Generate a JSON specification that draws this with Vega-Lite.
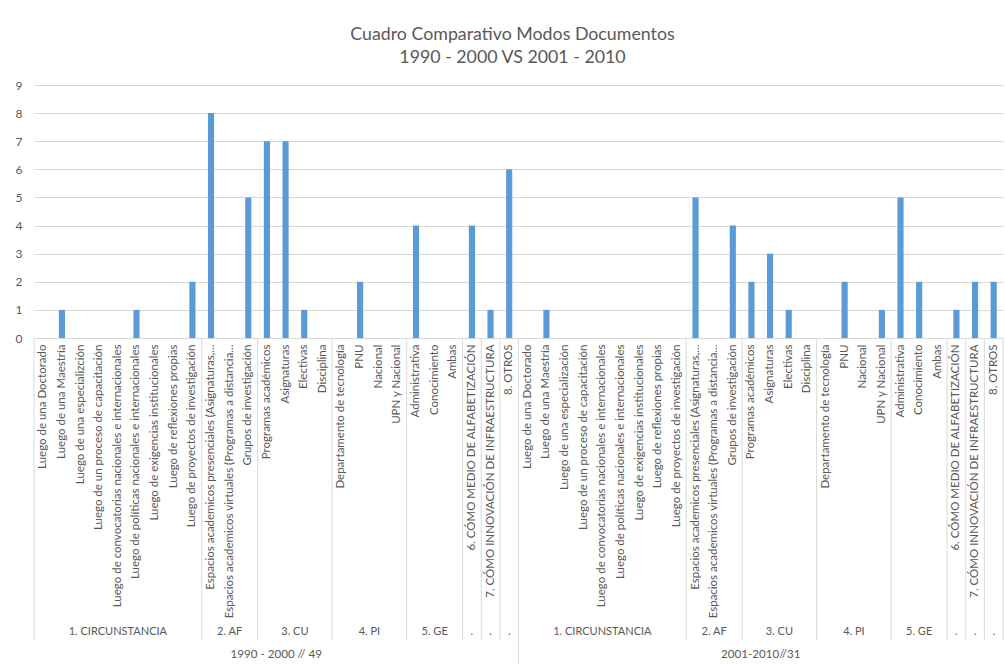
{
  "$schema": "https://vega.github.io/schema/vega-lite/v6.json",
  "width": 969,
  "height": 253,
  "autosize": {"type": "none"},
  "padding": {"left": 34, "top": 85, "right": 2, "bottom": 326},
  "background": "white",
  "title": {
    "text": ["Cuadro Comparativo Modos Documentos", "1990 - 2000 VS 2001 - 2010"],
    "font": "Lato",
    "fontSize": 17.8,
    "fontWeight": "normal",
    "color": "#595959",
    "anchor": "middle",
    "offset": 12,
    "dx": -6,
    "lineHeight": 23
  },
  "config": {
    "view": {"stroke": null},
    "font": "Lato",
    "axis": {"labelFont": "Lato"}
  },
  "datasets": {
    "bars": [
      {"period": "1990 - 2000 // 49", "group": "1. CIRCUNSTANCIA", "sub": "Luego de una Doctorado", "value": 0},
      {"period": "1990 - 2000 // 49", "group": "1. CIRCUNSTANCIA", "sub": "Luego de una Maestría", "value": 1},
      {"period": "1990 - 2000 // 49", "group": "1. CIRCUNSTANCIA", "sub": "Luego de una especializción", "value": 0},
      {"period": "1990 - 2000 // 49", "group": "1. CIRCUNSTANCIA", "sub": "Luego de un proceso de capacitación", "value": 0},
      {"period": "1990 - 2000 // 49", "group": "1. CIRCUNSTANCIA", "sub": "Luego de convocatorias nacionales e internacionales", "value": 0},
      {"period": "1990 - 2000 // 49", "group": "1. CIRCUNSTANCIA", "sub": "Luego de políticas nacionales e internacionales", "value": 1},
      {"period": "1990 - 2000 // 49", "group": "1. CIRCUNSTANCIA", "sub": "Luego de exigencias institucionales", "value": 0},
      {"period": "1990 - 2000 // 49", "group": "1. CIRCUNSTANCIA", "sub": "Luego de reflexiones propias", "value": 0},
      {"period": "1990 - 2000 // 49", "group": "1. CIRCUNSTANCIA", "sub": "Luego de proyectos de investigación", "value": 2},
      {"period": "1990 - 2000 // 49", "group": "2. AF", "sub": "Espacios academicos presenciales (Asignaturas,...", "value": 8},
      {"period": "1990 - 2000 // 49", "group": "2. AF", "sub": "Espacios academicos virtuales (Programas a distancia...", "value": 0},
      {"period": "1990 - 2000 // 49", "group": "2. AF", "sub": "Grupos de investigación", "value": 5},
      {"period": "1990 - 2000 // 49", "group": "3. CU", "sub": "Programas académicos", "value": 7},
      {"period": "1990 - 2000 // 49", "group": "3. CU", "sub": "Asignaturas", "value": 7},
      {"period": "1990 - 2000 // 49", "group": "3. CU", "sub": "Electivas", "value": 1},
      {"period": "1990 - 2000 // 49", "group": "3. CU", "sub": "Disciplina", "value": 0},
      {"period": "1990 - 2000 // 49", "group": "4. PI", "sub": "Departamento de tecnología", "value": 0},
      {"period": "1990 - 2000 // 49", "group": "4. PI", "sub": "PNU", "value": 2},
      {"period": "1990 - 2000 // 49", "group": "4. PI", "sub": "Nacional", "value": 0},
      {"period": "1990 - 2000 // 49", "group": "4. PI", "sub": "UPN y Nacional", "value": 0},
      {"period": "1990 - 2000 // 49", "group": "5. GE", "sub": "Administrativa", "value": 4},
      {"period": "1990 - 2000 // 49", "group": "5. GE", "sub": "Conocimiento", "value": 0},
      {"period": "1990 - 2000 // 49", "group": "5. GE", "sub": "Ambas", "value": 0},
      {"period": "1990 - 2000 // 49", "group": ".", "sub": "6. CÓMO MEDIO DE ALFABETIZACIÓN", "value": 4},
      {"period": "1990 - 2000 // 49", "group": ".", "sub": "7. CÓMO INNOVACIÓN DE INFRAESTRUCTURA", "value": 1},
      {"period": "1990 - 2000 // 49", "group": ".", "sub": "8. OTROS", "value": 6},
      {"period": "2001-2010//31", "group": "1. CIRCUNSTANCIA", "sub": "Luego de una Doctorado", "value": 0},
      {"period": "2001-2010//31", "group": "1. CIRCUNSTANCIA", "sub": "Luego de una Maestría", "value": 1},
      {"period": "2001-2010//31", "group": "1. CIRCUNSTANCIA", "sub": "Luego de una especialización", "value": 0},
      {"period": "2001-2010//31", "group": "1. CIRCUNSTANCIA", "sub": "Luego de un proceso de capacitación", "value": 0},
      {"period": "2001-2010//31", "group": "1. CIRCUNSTANCIA", "sub": "Luego de convocatorias nacionales e internacionales", "value": 0},
      {"period": "2001-2010//31", "group": "1. CIRCUNSTANCIA", "sub": "Luego de políticas nacionales e internacionales", "value": 0},
      {"period": "2001-2010//31", "group": "1. CIRCUNSTANCIA", "sub": "Luego de exigencias institucionales", "value": 0},
      {"period": "2001-2010//31", "group": "1. CIRCUNSTANCIA", "sub": "Luego de reflexiones propias", "value": 0},
      {"period": "2001-2010//31", "group": "1. CIRCUNSTANCIA", "sub": "Luego de proyectos de investigación", "value": 0},
      {"period": "2001-2010//31", "group": "2. AF", "sub": "Espacios academicos presenciales (Asignaturas,...", "value": 5},
      {"period": "2001-2010//31", "group": "2. AF", "sub": "Espacios academicos virtuales (Programas a distancia...", "value": 0},
      {"period": "2001-2010//31", "group": "2. AF", "sub": "Grupos de investigación", "value": 4},
      {"period": "2001-2010//31", "group": "3. CU", "sub": "Programas académicos", "value": 2},
      {"period": "2001-2010//31", "group": "3. CU", "sub": "Asignaturas", "value": 3},
      {"period": "2001-2010//31", "group": "3. CU", "sub": "Electivas", "value": 1},
      {"period": "2001-2010//31", "group": "3. CU", "sub": "Disciplina", "value": 0},
      {"period": "2001-2010//31", "group": "4. PI", "sub": "Departamento de tecnología", "value": 0},
      {"period": "2001-2010//31", "group": "4. PI", "sub": "PNU", "value": 2},
      {"period": "2001-2010//31", "group": "4. PI", "sub": "Nacional", "value": 0},
      {"period": "2001-2010//31", "group": "4. PI", "sub": "UPN y Nacional", "value": 1},
      {"period": "2001-2010//31", "group": "5. GE", "sub": "Administrativa", "value": 5},
      {"period": "2001-2010//31", "group": "5. GE", "sub": "Conocimiento", "value": 2},
      {"period": "2001-2010//31", "group": "5. GE", "sub": "Ambas", "value": 0},
      {"period": "2001-2010//31", "group": ".", "sub": "6. CÓMO MEDIO DE ALFABETIZACIÓN", "value": 1},
      {"period": "2001-2010//31", "group": ".", "sub": "7. CÓMO INNOVACIÓN DE INFRAESTRUCTURA", "value": 2},
      {"period": "2001-2010//31", "group": ".", "sub": "8. OTROS", "value": 2}
    ],
    "groupStarts": [
      {"period": "1990 - 2000 // 49", "sub": "Luego de una Doctorado"},
      {"period": "1990 - 2000 // 49", "sub": "Espacios academicos presenciales (Asignaturas,..."},
      {"period": "1990 - 2000 // 49", "sub": "Programas académicos"},
      {"period": "1990 - 2000 // 49", "sub": "Departamento de tecnología"},
      {"period": "1990 - 2000 // 49", "sub": "Administrativa"},
      {"period": "1990 - 2000 // 49", "sub": "6. CÓMO MEDIO DE ALFABETIZACIÓN"},
      {"period": "1990 - 2000 // 49", "sub": "7. CÓMO INNOVACIÓN DE INFRAESTRUCTURA"},
      {"period": "1990 - 2000 // 49", "sub": "8. OTROS"},
      {"period": "2001-2010//31", "sub": "Espacios academicos presenciales (Asignaturas,..."},
      {"period": "2001-2010//31", "sub": "Programas académicos"},
      {"period": "2001-2010//31", "sub": "Departamento de tecnología"},
      {"period": "2001-2010//31", "sub": "Administrativa"},
      {"period": "2001-2010//31", "sub": "6. CÓMO MEDIO DE ALFABETIZACIÓN"},
      {"period": "2001-2010//31", "sub": "7. CÓMO INNOVACIÓN DE INFRAESTRUCTURA"},
      {"period": "2001-2010//31", "sub": "8. OTROS"}
    ],
    "groupEnds": [
      {"period": "2001-2010//31", "sub": "8. OTROS"}
    ],
    "periodStarts": [
      {"period": "2001-2010//31", "sub": "Luego de una Doctorado"}
    ],
    "groupLabelsMid": [
      {"period": "1990 - 2000 // 49", "sub": "Luego de convocatorias nacionales e internacionales", "label": "1. CIRCUNSTANCIA"},
      {"period": "1990 - 2000 // 49", "sub": "Espacios academicos virtuales (Programas a distancia...", "label": "2. AF"},
      {"period": "1990 - 2000 // 49", "sub": "Conocimiento", "label": "5. GE"},
      {"period": "1990 - 2000 // 49", "sub": "6. CÓMO MEDIO DE ALFABETIZACIÓN", "label": "."},
      {"period": "1990 - 2000 // 49", "sub": "7. CÓMO INNOVACIÓN DE INFRAESTRUCTURA", "label": "."},
      {"period": "1990 - 2000 // 49", "sub": "8. OTROS", "label": "."},
      {"period": "2001-2010//31", "sub": "Luego de convocatorias nacionales e internacionales", "label": "1. CIRCUNSTANCIA"},
      {"period": "2001-2010//31", "sub": "Espacios academicos virtuales (Programas a distancia...", "label": "2. AF"},
      {"period": "2001-2010//31", "sub": "Conocimiento", "label": "5. GE"},
      {"period": "2001-2010//31", "sub": "6. CÓMO MEDIO DE ALFABETIZACIÓN", "label": "."},
      {"period": "2001-2010//31", "sub": "7. CÓMO INNOVACIÓN DE INFRAESTRUCTURA", "label": "."},
      {"period": "2001-2010//31", "sub": "8. OTROS", "label": "."}
    ],
    "groupLabelsEdge": [
      {"period": "1990 - 2000 // 49", "sub": "Electivas", "label": "3. CU"},
      {"period": "1990 - 2000 // 49", "sub": "Nacional", "label": "4. PI"},
      {"period": "2001-2010//31", "sub": "Electivas", "label": "3. CU"},
      {"period": "2001-2010//31", "sub": "Nacional", "label": "4. PI"}
    ],
    "periodLabels": [
      {"period": "1990 - 2000 // 49", "sub": "Asignaturas", "label": "1990 - 2000 // 49"},
      {"period": "2001-2010//31", "sub": "Asignaturas", "label": "2001-2010//31"}
    ]
  },
  "layer": [
    {
      "data": {"name": "bars"},
      "transform": [{"calculate": "datum.period + '|' + datum.sub", "as": "key"}],
      "mark": {"type": "bar", "color": "#5b9bd5", "width": {"band": 0.33}},
      "encoding": {
        "x": {
          "field": "key",
          "type": "nominal",
          "sort": null,
          "title": null,
          "scale": {"paddingInner": 0, "paddingOuter": 0},
          "axis": {
            "labelExpr": "substring(datum.label, indexof(datum.label, '|') + 1)",
            "labelAngle": -90,
            "labelAlign": "right",
            "labelBaseline": "middle",
            "labelFontSize": 11.5,
            "labelColor": "#595959",
            "labelLimit": 330,
            "labelPadding": 6,
            "labelOverlap": false,
            "ticks": false,
            "domainColor": "#d9d9d9",
            "grid": false
          }
        },
        "y": {
          "field": "value",
          "type": "quantitative",
          "title": null,
          "scale": {"domain": [0, 9], "nice": false},
          "axis": {
            "values": [0, 1, 2, 3, 4, 5, 6, 7, 8, 9],
            "grid": true,
            "gridColor": "#d9d9d9",
            "domain": false,
            "ticks": false,
            "labelColor": "#595959",
            "labelFontSize": 12,
            "labelPadding": 12,
            "labelOverlap": false
          }
        }
      }
    },
    {
      "data": {"name": "groupStarts"},
      "transform": [{"calculate": "datum.period + '|' + datum.sub", "as": "key"}],
      "mark": {"type": "rule", "color": "#d9d9d9", "strokeWidth": 1},
      "encoding": {
        "x": {"field": "key", "type": "nominal", "sort": null, "title": null, "bandPosition": 0},
        "y": {"datum": 0, "type": "quantitative", "title": null, "axis": {"values": [0, 1, 2, 3, 4, 5, 6, 7, 8, 9], "grid": true, "gridColor": "#d9d9d9", "domain": false, "ticks": false, "labelColor": "#595959", "labelFontSize": 12, "labelPadding": 12, "labelOverlap": false}},
        "y2": {"datum": -10.75}
      }
    },
    {
      "data": {"name": "groupEnds"},
      "transform": [{"calculate": "datum.period + '|' + datum.sub", "as": "key"}],
      "mark": {"type": "rule", "color": "#d9d9d9", "strokeWidth": 1},
      "encoding": {
        "x": {"field": "key", "type": "nominal", "sort": null, "title": null, "bandPosition": 1},
        "y": {"datum": 0, "type": "quantitative", "title": null, "axis": {"values": [0, 1, 2, 3, 4, 5, 6, 7, 8, 9], "grid": true, "gridColor": "#d9d9d9", "domain": false, "ticks": false, "labelColor": "#595959", "labelFontSize": 12, "labelPadding": 12, "labelOverlap": false}},
        "y2": {"datum": -10.75}
      }
    },
    {
      "data": {"name": "periodStarts"},
      "transform": [{"calculate": "datum.period + '|' + datum.sub", "as": "key"}],
      "mark": {"type": "rule", "color": "#d9d9d9", "strokeWidth": 1},
      "encoding": {
        "x": {"field": "key", "type": "nominal", "sort": null, "title": null, "bandPosition": 0},
        "y": {"datum": 0, "type": "quantitative", "title": null, "axis": {"values": [0, 1, 2, 3, 4, 5, 6, 7, 8, 9], "grid": true, "gridColor": "#d9d9d9", "domain": false, "ticks": false, "labelColor": "#595959", "labelFontSize": 12, "labelPadding": 12, "labelOverlap": false}},
        "y2": {"datum": -11.8}
      }
    },
    {
      "data": {"name": "groupLabelsMid"},
      "transform": [{"calculate": "datum.period + '|' + datum.sub", "as": "key"}],
      "mark": {"type": "text", "color": "#595959", "fontSize": 11, "baseline": "middle", "align": "center"},
      "encoding": {
        "x": {"field": "key", "type": "nominal", "sort": null, "title": null, "bandPosition": 0.5},
        "y": {"datum": -10.46, "type": "quantitative", "title": null, "axis": {"values": [0, 1, 2, 3, 4, 5, 6, 7, 8, 9], "grid": true, "gridColor": "#d9d9d9", "domain": false, "ticks": false, "labelColor": "#595959", "labelFontSize": 12, "labelPadding": 12, "labelOverlap": false}},
        "text": {"field": "label"}
      }
    },
    {
      "data": {"name": "groupLabelsEdge"},
      "transform": [{"calculate": "datum.period + '|' + datum.sub", "as": "key"}],
      "mark": {"type": "text", "color": "#595959", "fontSize": 11, "baseline": "middle", "align": "center"},
      "encoding": {
        "x": {"field": "key", "type": "nominal", "sort": null, "title": null, "bandPosition": 0},
        "y": {"datum": -10.46, "type": "quantitative", "title": null, "axis": {"values": [0, 1, 2, 3, 4, 5, 6, 7, 8, 9], "grid": true, "gridColor": "#d9d9d9", "domain": false, "ticks": false, "labelColor": "#595959", "labelFontSize": 12, "labelPadding": 12, "labelOverlap": false}},
        "text": {"field": "label"}
      }
    },
    {
      "data": {"name": "periodLabels"},
      "transform": [{"calculate": "datum.period + '|' + datum.sub", "as": "key"}],
      "mark": {"type": "text", "color": "#595959", "fontSize": 11.6, "baseline": "middle", "align": "center"},
      "encoding": {
        "x": {"field": "key", "type": "nominal", "sort": null, "title": null, "bandPosition": 0},
        "y": {"datum": -11.28, "type": "quantitative", "title": null, "axis": {"values": [0, 1, 2, 3, 4, 5, 6, 7, 8, 9], "grid": true, "gridColor": "#d9d9d9", "domain": false, "ticks": false, "labelColor": "#595959", "labelFontSize": 12, "labelPadding": 12, "labelOverlap": false}},
        "text": {"field": "label"}
      }
    }
  ]
}
